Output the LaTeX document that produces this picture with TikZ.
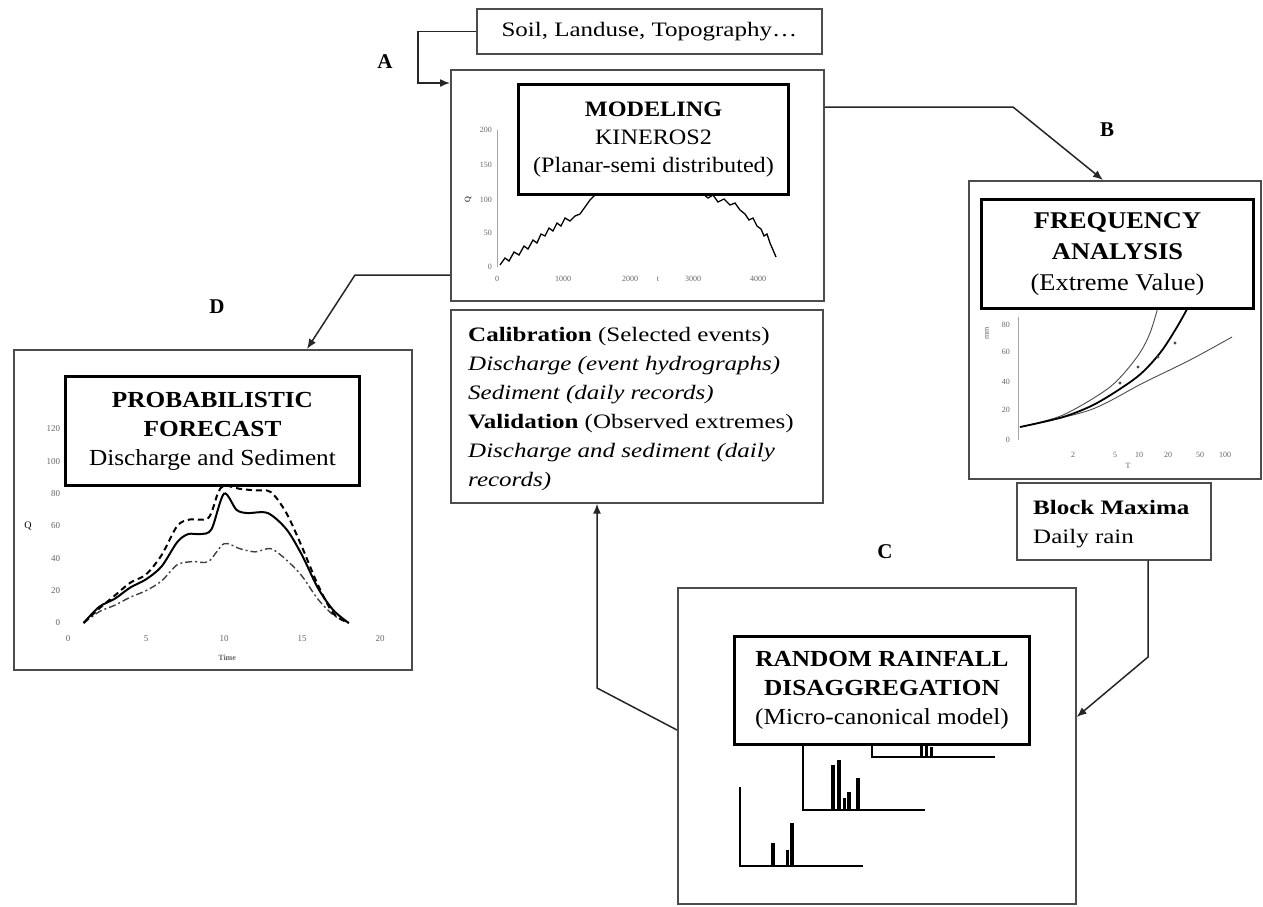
\documentclass[tikz,border=0pt]{standalone}
\usepackage{fontspec}
\setmainfont{Liberation Serif}
\newfontfamily\tfont[FakeStretch=1.1]{Liberation Serif}
\newfontfamily\bfont[FakeStretch=1.22]{Liberation Serif}
\usetikzlibrary{arrows.meta,calc}
\begin{document}
\begin{tikzpicture}[x=1pt,y=-1pt,
  panel/.style={draw=black!70, line width=1.6pt, anchor=north west, inner sep=0pt},
  titlebox/.style={draw=black, line width=3pt, fill=white, anchor=north west, inner sep=0pt, align=center, font=\tfont\fontsize{23}{29}\selectfont},
  conn/.style={draw=black!85, line width=1.5pt},
  arr/.style={conn, -{Latex[length=10pt,width=8pt]}},
  lbl/.style={font=\bfseries\fontsize{21}{21}\selectfont, inner sep=0pt},
  tick/.style={font=\fontsize{8}{8}\selectfont, text=black!60, inner sep=0pt},
  body/.style={font=\bfont\fontsize{20.5}{29}\selectfont},
  axis/.style={draw=black!35, line width=0.6pt},
  chartline/.style={draw=black, line width=1.5pt},
  bar/.style={fill=black}
]
\fill[white] (0,0) rectangle (1263,906);
\useasboundingbox (0,0) rectangle (1263,906);

% ---------- panels ----------
\node[panel, minimum width=345pt, minimum height=45pt, body] (soil) at (476,8) {Soil, Landuse, Topography…};
\node[panel, minimum width=373pt, minimum height=231pt] (model) at (450,69) {};
\node[panel, minimum width=372pt, minimum height=193pt] (calib) at (450,309) {};
\node[panel, minimum width=292pt, minimum height=298pt] (freq) at (968,180) {};
\node[panel, minimum width=194pt, minimum height=77pt] (block) at (1016,482) {};
\node[panel, minimum width=398pt, minimum height=316pt] (rain) at (677,587) {};
\node[panel, minimum width=398pt, minimum height=320pt] (fore) at (13,349) {};

% ---------- modeling chart ----------
\draw[axis] (497,130) -- (497,267);
\foreach \y/\t in {130/200,165/150,200/100,233/50,267/0}
  \node[tick, anchor=east] (my\t) at (492,\y) {\t};
\node[tick, rotate=90, text=black] (mylab) at (468,200) {Q};
\foreach \x/\t in {497/0,563/1000,630/2000,693/3000,758/4000}
  \node[tick] (mx\t) at (\x,279) {\t};
\node[tick] (mxlab) at (658,279) {t};
\draw[chartline, line width=1.3pt] (500,265)--(505,258)--(509,261)--(514,252)--(519,255)--(524,246)--(528,249)--(533,240)--(537,243)--(541,234)--(545,236)--(549,228)--(553,231)--(557,223)--(561,226)--(565,218)--(570,221)--(575,216)--(580,214)--(585,207)--(590,200)--(594,196)--(600,185);
\draw[chartline, line width=1.3pt] (698,185)--(702,193)--(708,198)--(713,195)--(718,202)--(724,199)--(730,205)--(735,203)--(740,210)--(745,214)--(749,220)--(753,218)--(757,226)--(761,229)--(764,236)--(767,234)--(770,243)--(773,250)--(776,257);
\node[titlebox, minimum width=270pt, minimum height=110pt, font=\tfont\fontsize{22}{28}\selectfont] (modtitle) at (517,83)
  {\textbf{MODELING}\\KINEROS2\\(Planar-semi distributed)};

% ---------- calibration text ----------
\node[anchor=north west, inner sep=0pt, align=left, body] (calibtext) at (468,327)
  {\textbf{Calibration} (Selected events)\\
   \textit{Discharge (event hydrographs)}\\
   \textit{Sediment (daily records)}\\
   \textbf{Validation} (Observed extremes)\\
   \textit{Discharge and sediment (daily}\\
   \textit{records)}};

% ---------- frequency chart ----------
\draw[axis] (1018,317) -- (1018,440);
\foreach \y/\t in {325/80,352/60,382/40,410/20,440/0}
  \node[tick, anchor=east] (fy\t) at (1010,\y) {\t};
\node[tick, rotate=90] (fylab) at (987,333) {mm};
\foreach \x/\t in {1073/2,1115/5,1139/10,1168/20,1200/50,1225/100}
  \node[tick] (fx\t) at (\x,455) {\t};
\node[tick] (fxlab) at (1128,466) {T};
\draw[black!70, line width=0.9pt] plot[smooth] coordinates {(1020,427) (1063,415) (1110,387) (1137,357) (1150,333) (1160,300)};
\draw[black!70, line width=0.9pt] plot[smooth] coordinates {(1020,427) (1090,410) (1143,383) (1190,360) (1232,337)};
\draw[black, line width=1.8pt] plot[smooth] coordinates {(1020,427) (1063,417) (1097,403) (1137,377) (1160,353) (1177,327) (1192,300)};
\foreach \p [count=\i] in {(1120,383),(1138,367),(1158,357),(1175,343)}
  \fill[black!70] \p circle (1.6pt);
\node[titlebox, minimum width=272pt, minimum height=109pt, font=\tfont\fontsize{24}{31}\selectfont] (freqtitle) at (980,198)
  {\textbf{FREQUENCY}\\\textbf{ANALYSIS}\\(Extreme Value)};

% ---------- block maxima text ----------
\node[anchor=north west, inner sep=0pt, align=left, body] (blocktext) at (1033,500)
  {\textbf{Block Maxima}\\Daily rain};

% ---------- forecast chart ----------
\begin{scope}[shift={(68,623)}, x=15.6pt, y=1.617pt]
  \foreach \v in {0,20,...,120}
    \node[tick, anchor=east, font=\fontsize{9}{9}\selectfont] (fv\v) at (-0.5,\v) {\v};
  \foreach \v in {0,5,...,20}
    \node[tick, font=\fontsize{9}{9}\selectfont] (fh\v) at (\v,-9.5) {\v};
  \node[tick, font=\bfseries\fontsize{8}{8}\selectfont] (ftime) at (10.2,-21.6) {Time};
  \node[tick, text=black, font=\fontsize{10}{10}\selectfont] (fq) at (-2.56,60) {Q};
  \draw[black!75, line width=1.4pt, dash pattern=on 7pt off 3pt on 2pt off 3pt] plot[smooth, tension=0.5] coordinates
    {(1,0)(2,7)(3,11)(4,16)(5,20)(6,26)(7,36)(8,38)(9,38)(10,49)(11,46)(12,44)(13,46)(14,39)(15,29)(16,15)(17,5)(18,0)};
  \draw[black, line width=2pt, dash pattern=on 6pt off 4pt] plot[smooth, tension=0.5] coordinates
    {(1,0)(2,9)(3,17)(4,25)(5,30)(6,42)(7,60)(7.8,64)(9,65)(9.6,80)(10,85)(11,83)(12,82)(13,81)(14,68)(15,47)(16,24)(17,6)(18,0)};
  \draw[black, line width=2pt] plot[smooth, tension=0.5] coordinates
    {(1,0)(2,10)(3,15)(4,22)(5,27)(6,35)(7,50)(7.7,55)(8.5,55)(9.2,58)(10,80)(10.8,70)(11.5,68)(12.8,68)(14,58)(15,42)(16,22)(17,8)(18,0)};
\end{scope}
\node[titlebox, minimum width=294pt, minimum height=109pt] (foretitle) at (64,375)
  {\textbf{PROBABILISTIC}\\\textbf{FORECAST}\\Discharge and Sediment};

% ---------- rainfall charts ----------
\draw[chartline] (872,743) -- (872,757) -- (995,757);
\fill[bar] (920,746) rectangle (923,757);
\fill[bar] (925,745) rectangle (928,757);
\fill[bar] (930,747) rectangle (933,757);
\draw[chartline] (803,743) -- (803,810) -- (925,810);
\fill[bar] (831,765) rectangle (835,810);
\fill[bar] (837,760) rectangle (841,810);
\fill[bar] (843,798) rectangle (846,810);
\fill[bar] (847,792) rectangle (851,810);
\fill[bar] (856,778) rectangle (860,810);
\draw[chartline] (740,787) -- (740,866) -- (863,866);
\fill[bar] (771,843) rectangle (775,866);
\fill[bar] (786,850) rectangle (789,866);
\fill[bar] (790,823) rectangle (794,866);
\node[titlebox, minimum width=295pt, minimum height=108pt] (raintitle) at (733,635)
  {\textbf{RANDOM RAINFALL}\\\textbf{DISAGGREGATION}\\(Micro-canonical model)};

% ---------- connectors ----------
\coordinate (a1) at (418,83);
\draw[arr] (soil.west) -| (a1) -- (a1 -| model.west);
\coordinate (b1) at (1013,107);
\coordinate (b2) at (1103,0);
\draw[arr] (b1 -| model.east) -- (b1) -- (b2 |- freq.north);
\coordinate (c1) at (1148,657);
\coordinate (c2) at (0,717);
\draw[arr] (c1 |- block.south) -- (c1) -- (c2 -| rain.east);
\coordinate (d1) at (355,275);
\coordinate (d2) at (307,0);
\draw[arr] (d1 -| model.west) -- (d1) -- (d2 |- fore.north);
\coordinate (e1) at (597,688);
\coordinate (e2) at (0,730);
\draw[arr] (e2 -| rain.west) -- (e1) -- (e1 |- calib.south);

% ---------- labels ----------
\node[lbl] (labA) at (385,62) {A};
\node[lbl] (labB) at (1107,130) {B};
\node[lbl] (labC) at (885,552) {C};
\node[lbl] (labD) at (217,307) {D};
\end{tikzpicture}
\end{document}
